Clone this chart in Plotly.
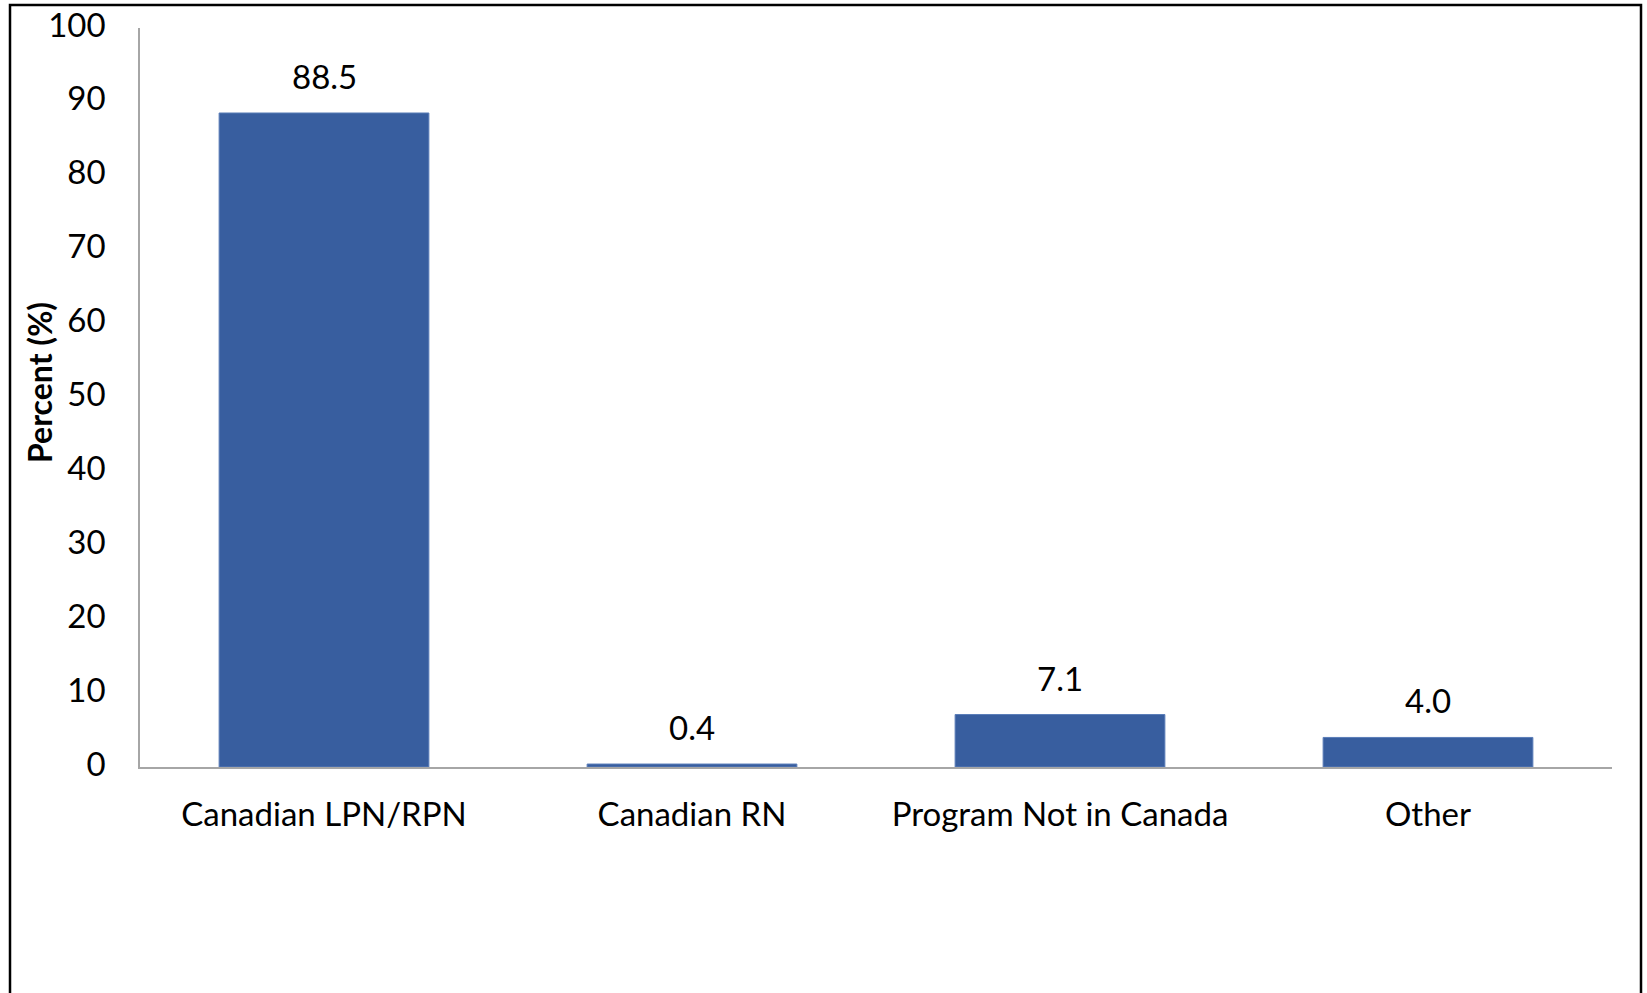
import plotly.graph_objects as go

categories = ["Canadian LPN/RPN", "Canadian RN", "Program Not in Canada", "Other"]
values = [88.5, 0.4, 7.1, 4.0]
value_labels = ["88.5", "0.4", "7.1", "4.0"]
y_ticks = [0, 10, 20, 30, 40, 50, 60, 70, 80, 90, 100]

W, H = 1647, 993
L, R, T, B = 140, 35, 28, 226
pw = W - L - R
ph = H - T - B

FONT = "Lato"
BAR = "#385E9F"
FS = 33

fig = go.Figure()
fig.add_trace(go.Bar(
    x=categories, y=values,
    marker=dict(color=BAR, line=dict(color="#5A7DB8", width=1)),
    hoverinfo="skip",
))

for c, v, t in zip(categories, values, value_labels):
    fig.add_annotation(x=c, y=v, text=t, showarrow=False, yanchor="bottom",
                       yshift=15, font=dict(family=FONT, size=FS, color="#000000"))

fig.add_annotation(xref="paper", yref="paper", x=(39 - L) / pw, y=(767 - 383) / ph,
                   text="<b>Percent (%)</b>", textangle=-90, showarrow=False,
                   xanchor="center", yanchor="middle",
                   font=dict(family=FONT, size=32, color="#000000"))

fig.update_layout(
    width=W, height=H,
    margin=dict(l=L, r=R, t=T, b=B, pad=0, autoexpand=False),
    paper_bgcolor="white", plot_bgcolor="white",
    bargap=0.43,
    showlegend=False,
    font=dict(family=FONT, size=FS, color="#000000"),
    xaxis=dict(
        showline=True, linecolor="#A6A6A6", linewidth=2,
        showgrid=False, ticks="", ticklabelstandoff=17,
        tickfont=dict(family=FONT, size=FS, color="#000000"),
    ),
    yaxis=dict(
        range=[0, 100], tickvals=y_ticks, showline=True, linecolor="#A6A6A6",
        linewidth=1.5, showgrid=False, zeroline=False, ticks="",
        ticklabelstandoff=26, ticklabelshift=-3,
        tickfont=dict(family=FONT, size=FS, color="#000000"),
    ),
    shapes=[dict(
        type="rect", xref="paper", yref="paper",
        x0=(10 - L) / pw, x1=(1641 - L) / pw,
        y0=-0.6, y1=(H - B - 5) / ph,
        line=dict(color="#000000", width=2.5), fillcolor="rgba(0,0,0,0)",
        layer="above",
    )],
)

fig.write_html("out.html", config={"displayModeBar": False},
               post_script="document.body.style.margin='0';")
